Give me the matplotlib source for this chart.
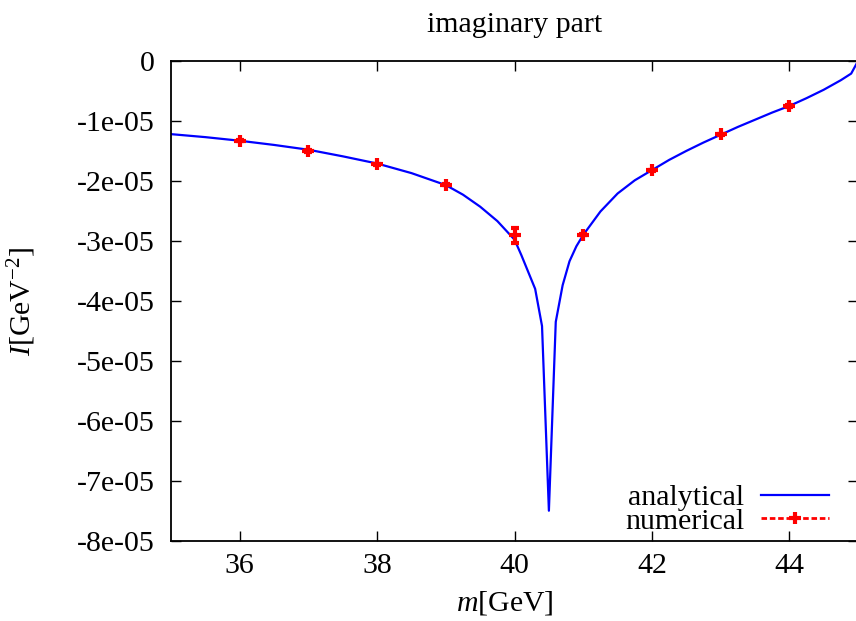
import matplotlib
matplotlib.use('Agg')
import matplotlib.pyplot as plt
from matplotlib.lines import Line2D

# analytical curve (units of 1e-05 GeV^-2)
m_ana = [35.0, 35.5, 36.0, 36.5, 37.0, 37.5, 38.0, 38.5, 39.0, 39.25, 39.5, 39.75,
         40.0, 40.1, 40.2, 40.3, 40.4, 40.5, 40.6, 40.7, 40.8, 40.9, 41.0, 41.25,
         41.5, 41.75, 42.0, 42.25, 42.5, 42.75, 43.0, 43.25, 43.5, 43.75, 44.0,
         44.25, 44.5, 44.75, 44.9, 45.0]
i_ana = [-1.22, -1.27, -1.33, -1.40, -1.48, -1.59, -1.71, -1.87, -2.07, -2.23, -2.43, -2.67,
         -2.98, -3.24, -3.52, -3.80, -4.42, -7.50, -4.35, -3.74, -3.34, -3.09, -2.90, -2.51,
         -2.21, -1.99, -1.82, -1.65, -1.50, -1.36, -1.23, -1.10, -0.98, -0.86, -0.75,
         -0.62, -0.48, -0.32, -0.21, 0.0]

# numerical points
m_num = [36, 37, 38, 39, 40, 41, 42, 43, 44]
i_num = [-1.33, -1.50, -1.72, -2.06, -2.91, -2.90, -1.82, -1.22, -0.75]
err_num = [0.01, 0.01, 0.01, 0.01, 0.12, 0.01, 0.01, 0.01, 0.01]

xticks = [36, 38, 40, 42, 44]
yticks = [0, -1, -2, -3, -4, -5, -6, -7, -8]
ylabels = ['0', '-1e-05', '-2e-05', '-3e-05', '-4e-05', '-5e-05', '-6e-05', '-7e-05', '-8e-05']

plt.rcParams['font.family'] = ['Liberation Serif', 'DejaVu Serif']
plt.rcParams['mathtext.fontset'] = 'custom'
plt.rcParams['mathtext.rm'] = 'Liberation Serif'
plt.rcParams['mathtext.it'] = 'Liberation Serif:italic'

fig = plt.figure(figsize=(8.56, 6.21), dpi=100)
ax = fig.add_axes([0.1998, 0.1293, 0.8026, 0.7725])

ax.plot(m_ana, i_ana, color='#0000ff', lw=1.6, label='analytical')
ax.errorbar(m_num, i_num, yerr=err_num, fmt='+', color='#ff0000', ms=8, mew=3,
            elinewidth=2, capsize=3, capthick=2)

ax.set_xlim(35, 45)
ax.set_ylim(-8, 0)
ax.set_xticks(xticks)
ax.set_yticks(yticks)
ax.set_yticklabels(ylabels)
ax.tick_params(direction='in', top=True, right=True, length=7, width=1, labelsize=21.5)
ax.tick_params(axis='y', pad=12)
ax.tick_params(axis='x', pad=9)
for s in ax.spines.values():
    s.set_linewidth(1.3)

ax.set_title('imaginary part', fontsize=21.5, pad=21)
ax.set_xlabel(r'$m[\mathrm{GeV}]$', fontsize=21.5)
ax.xaxis.set_label_coords(0.486, -0.13)
ax.xaxis.label.set_va('center')
ax.set_ylabel(r'$I[\mathrm{GeV}^{-2}]$', fontsize=21.5)
ax.yaxis.set_label_coords(-0.217, 0.5)
ax.yaxis.label.set_va('center')

h_ana = Line2D([], [], color='#0000ff', lw=1.6)
h_num = Line2D([], [], color='#ff0000', lw=2, ls=(0, (2, 1)), marker='+', ms=8, mew=3)
ax.legend([h_ana, h_num], ['analytical', 'numerical'], loc='lower right',
          bbox_to_anchor=(0.958, 0.012), frameon=False, markerfirst=False,
          fontsize=21.5, handlelength=2.3, handletextpad=0.55, labelspacing=-0.1,
          borderpad=0, borderaxespad=0, numpoints=1)

fig.savefig('out.png', dpi=100)
